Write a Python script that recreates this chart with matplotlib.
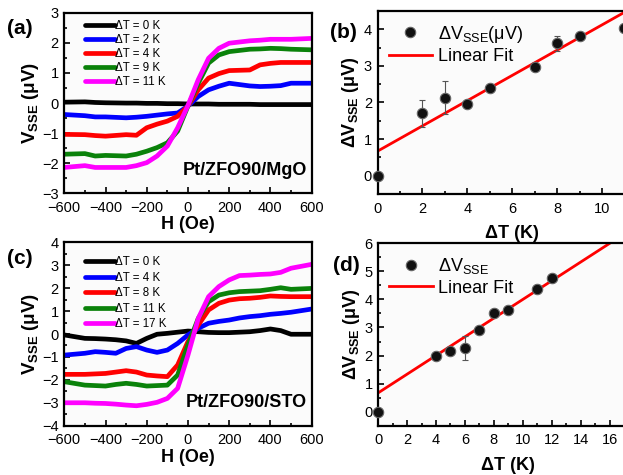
import numpy as np
import matplotlib
matplotlib.use("Agg")
import matplotlib.pyplot as plt
from matplotlib.ticker import MultipleLocator, FixedLocator

plt.rcParams['font.family'] = ['Liberation Sans', 'DejaVu Sans']
plt.rcParams['mathtext.fontset'] = 'custom'
plt.rcParams['mathtext.rm'] = 'Liberation Sans'
plt.rcParams['mathtext.bf'] = 'Liberation Sans:bold'
plt.rcParams['mathtext.it'] = 'Liberation Sans:italic'

### DATOS (a) Pt/ZFO90/MgO
h_a = [-600, -500, -450, -400, -300, -250, -200, -150, -100, -50, 0, 50, 100, 150, 200, 300, 350, 400, 450, 500, 600]
v_a0 = [0.03, 0.04, 0.02, 0.01, 0.0, 0.0, -0.01, -0.01, -0.02, -0.02, -0.03, -0.03, -0.03, -0.04, -0.04, -0.04, -0.05, -0.05, -0.05, -0.05, -0.05]
v_a2 = [-0.38, -0.42, -0.46, -0.46, -0.49, -0.47, -0.44, -0.40, -0.36, -0.33, -0.10, 0.22, 0.44, 0.56, 0.66, 0.57, 0.55, 0.56, 0.58, 0.66, 0.66]
v_a4 = [-1.04, -1.05, -1.08, -1.10, -1.05, -1.07, -0.82, -0.70, -0.60, -0.44, -0.10, 0.44, 0.83, 0.98, 1.08, 1.10, 1.27, 1.32, 1.35, 1.35, 1.35]
v_a9 = [-1.70, -1.68, -1.76, -1.74, -1.76, -1.70, -1.60, -1.48, -1.32, -0.93, -0.10, 0.66, 1.33, 1.60, 1.71, 1.79, 1.80, 1.82, 1.81, 1.79, 1.77]
v_a11 = [-2.14, -2.08, -2.14, -2.14, -2.14, -2.08, -1.98, -1.76, -1.43, -0.82, -0.08, 0.78, 1.49, 1.82, 1.99, 2.07, 2.09, 2.12, 2.12, 2.12, 2.15]
lab_a = ["ΔT = 0 K", "ΔT = 2 K", "ΔT = 4 K", "ΔT = 9 K", "ΔT = 11 K"]

### DATOS (c) Pt/ZFO90/STO
h_c = [-600, -500, -450, -400, -350, -300, -250, -200, -150, -100, -50, 0, 50, 100, 150, 200, 250, 300, 350, 400, 450, 500, 600]
v_c0 = [-0.04, -0.19, -0.20, -0.22, -0.25, -0.30, -0.41, -0.19, -0.01, 0.03, 0.08, 0.13, 0.10, 0.07, 0.06, 0.06, 0.08, 0.10, 0.15, 0.22, 0.15, -0.01, -0.01]
v_c4 = [-0.92, -0.84, -0.77, -0.80, -0.84, -0.63, -0.55, -0.70, -0.80, -0.70, -0.41, -0.04, 0.25, 0.47, 0.55, 0.61, 0.70, 0.76, 0.80, 0.86, 0.90, 0.95, 1.09]
v_c8 = [-1.76, -1.76, -1.74, -1.72, -1.66, -1.60, -1.66, -1.79, -1.83, -1.86, -1.35, -0.33, 0.39, 1.05, 1.34, 1.48, 1.54, 1.56, 1.60, 1.66, 1.64, 1.63, 1.63]
v_c11 = [-2.08, -2.23, -2.25, -2.27, -2.20, -2.15, -2.20, -2.27, -2.25, -2.23, -1.79, -0.48, 0.68, 1.41, 1.70, 1.80, 1.85, 1.87, 1.89, 1.95, 2.02, 1.95, 1.99]
v_c17 = [-3.00, -3.00, -3.02, -3.03, -3.06, -3.10, -3.13, -3.07, -2.98, -2.81, -2.37, -0.92, 0.68, 1.63, 2.07, 2.36, 2.55, 2.57, 2.60, 2.62, 2.69, 2.87, 3.04]
lab_c = ["ΔT = 0 K", "ΔT = 4 K", "ΔT = 8 K", "ΔT = 11 K", "ΔT = 17 K"]

colores = ["black", "#0000ff", "#ff0000", "#0a820a", "#ff00ff"]

### DATOS (b)
dt_b = [0, 2, 3, 4, 5, 7, 8, 9, 11]
dv_b = [0.0, 1.70, 2.13, 1.95, 2.40, 2.98, 3.62, 3.82, 4.03]
err_b = [0.02, 0.36, 0.45, 0.05, 0.05, 0.05, 0.20, 0.05, 0.05]
fit_b = [0.67, 0.345]   # intercepto, pendiente

### DATOS (d)
dt_d = [0, 4, 5, 6, 7, 8, 9, 11, 12]
dv_d = [0.0, 2.0, 2.15, 2.27, 2.90, 3.52, 3.62, 4.37, 4.75]
err_d = [0.02, 0.05, 0.05, 0.42, 0.12, 0.05, 0.05, 0.05, 0.05]
fit_d = [0.67, 0.333]


def estilo(ax, xmaj, ymaj, xmax_tick=None):
    for s in ax.spines.values():
        s.set_linewidth(1.6)
    if xmax_tick is None:
        ax.xaxis.set_major_locator(MultipleLocator(xmaj))
    else:
        ax.xaxis.set_major_locator(FixedLocator(np.arange(0, xmax_tick + 1, xmaj)))
    ax.xaxis.set_minor_locator(MultipleLocator(xmaj / 2))
    ax.yaxis.set_major_locator(MultipleLocator(ymaj))
    ax.yaxis.set_minor_locator(MultipleLocator(ymaj / 2))
    ax.tick_params(which="both", direction="in", width=1.2, labelsize=10.5)
    ax.tick_params(axis="x", pad=5.5)
    ax.tick_params(axis="y", pad=4)
    ax.tick_params(which="major", length=4)
    ax.tick_params(which="minor", length=2)
    ax.set_facecolor("#fbfbfb")


def panel_curvas(ax, h, curvas, labels, ylim, texto, letra, sep, ytop):
    for v, c, l in zip(curvas, colores, labels):
        ax.plot(h, v, color=c, lw=3.4, label=l, solid_capstyle="round")
    ax.set_xlim(-600, 600)
    ax.set_ylim(*ylim)
    estilo(ax, 200, 1)
    ax.set_xlabel("H (Oe)", fontsize=13, fontweight="bold", labelpad=1)
    ax.set_ylabel("V$_{\\mathbf{SSE}}$ (μV)", fontsize=13.5, fontweight="bold", labelpad=1)
    ax.legend(loc="upper left", bbox_to_anchor=(0.04, ytop), frameon=False, fontsize=8.3,
              handlelength=2.6, handletextpad=0.0, labelspacing=sep, borderpad=0.4)
    ax.text(0.98, 0.08, texto, transform=ax.transAxes, ha="right", va="bottom",
            fontsize=13, fontweight="bold")
    ax.text(-0.23, 0.88, letra, transform=ax.transAxes, fontsize=15, fontweight="bold")


def panel_ajuste(ax, dt, dv, err, fit, xlim, ylim, ymaj, xmax_tick, etiqueta, letra):
    xs = np.array([xlim[0], xlim[1]])
    ax.plot(xs, fit[0] + fit[1] * xs, color="#ff0000", lw=2, label="Linear Fit", zorder=2)
    ax.errorbar(dt, dv, yerr=err, fmt="none", ecolor="#555555", elinewidth=0.8,
                capsize=2, capthick=0.8, zorder=3)
    ax.plot(dt, dv, "o", ms=7.5, mfc="#111111", mec="#666666", mew=0.8, label=etiqueta,
            zorder=4, clip_on=False)
    ax.set_xlim(*xlim)
    ax.set_ylim(*ylim)
    estilo(ax, 2, ymaj, xmax_tick)
    ax.set_xlabel("ΔT (K)", fontsize=13, fontweight="bold", labelpad=7)
    ax.set_ylabel("ΔV$_{\\mathbf{SSE}}$ (μV)", fontsize=13, fontweight="bold", labelpad=2)
    h, l = ax.get_legend_handles_labels()
    ax.legend([h[1], h[0]], [l[1], l[0]], loc="upper left", bbox_to_anchor=(-0.005, 1.0),
              frameon=False, fontsize=13, handlelength=2.4, handletextpad=0.3,
              labelspacing=0.2, borderpad=0.2)
    ax.text(-0.175, 0.85, letra, transform=ax.transAxes, fontsize=15, fontweight="bold")


fig = plt.figure(figsize=(6.23, 4.75), dpi=100)
ax_a = fig.add_axes([0.1032, 0.593, 0.397, 0.380])
ax_b = fig.add_axes([0.606, 0.5916, 0.4324, 0.3853])
ax_c = fig.add_axes([0.1032, 0.1038, 0.397, 0.386])
ax_d = fig.add_axes([0.607, 0.1038, 0.418, 0.384])

panel_curvas(ax_a, h_a, [v_a0, v_a2, v_a4, v_a9, v_a11], lab_a, (-3, 3), "Pt/ZFO90/MgO", "(a)", 0.18, 1.018)
panel_curvas(ax_c, h_c, [v_c0, v_c4, v_c8, v_c11, v_c17], lab_c, (-4, 4), "Pt/ZFO90/STO", "(c)", 0.3, 0.98)

panel_ajuste(ax_b, dt_b, dv_b, err_b, fit_b, (0, 12), (-0.5, 4.5), 1, 10,
             "ΔV$_{\\mathrm{SSE}}$(μV)", "(b)")
panel_ajuste(ax_d, dt_d, dv_d, err_d, fit_d, (0, 18), (-0.5, 6), 1, 16,
             "ΔV$_{\\mathrm{SSE}}$", "(d)")

fig.savefig("out.png", dpi=100)
